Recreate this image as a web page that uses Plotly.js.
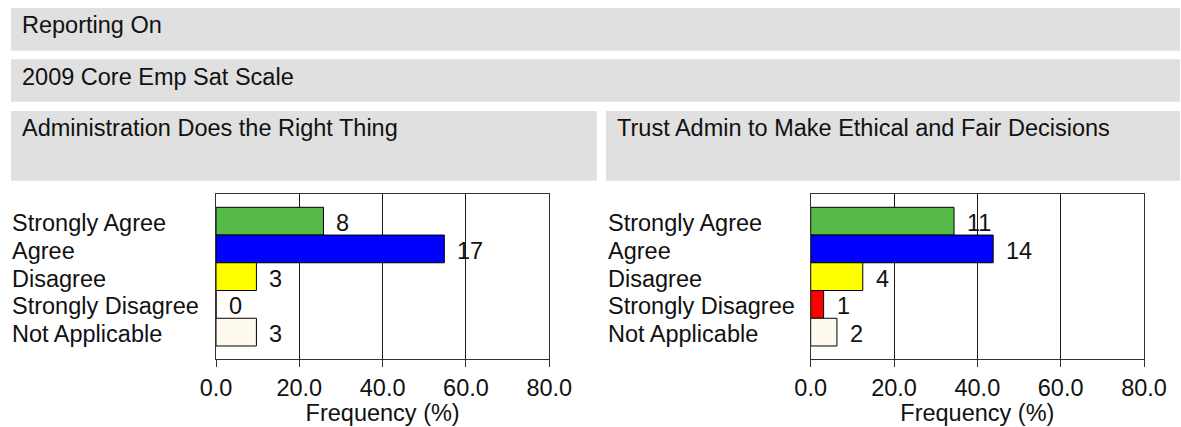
<!DOCTYPE html>
<html>
<head>
<meta charset="utf-8">
<script src="https://cdn.plot.ly/plotly-3.0.1.min.js"></script>
<style>
  html, body { margin: 0; padding: 0; background: #ffffff; }
  #chart { width: 1181px; height: 427px; }
</style>
</head>
<body>
<div id="chart"></div>
<script>
// ---- Data ----
const categories = ["Strongly Agree", "Agree", "Disagree", "Strongly Disagree", "Not Applicable"];
const barColors = ["#55BA47", "#0000FF", "#FFFF00", "#FF0000", "#FFFAF0"];
const leftCounts = [8, 17, 3, 0, 3];
const leftPercent = [25.8, 54.8, 9.7, 0, 9.7];
const rightCounts = [11, 14, 4, 1, 2];
const rightPercent = [34.4, 43.8, 12.5, 3.1, 6.3];
const xTickValues = [0, 20, 40, 60, 80];
const headerTexts = ["Reporting On", "2009 Core Emp Sat Scale"];
const panelTitles = ["Administration Does the Right Thing", "Trust Admin to Make Ethical and Fair Decisions"];
const xAxisTitle = "Frequency (%)";

// ---- Layout helpers ----
const W = 1181, H = 427;
const px = v => v / W;
const py = v => 1 - v / H;
const FONT = "Arial, 'Liberation Sans', Helvetica, sans-serif";
const FS = 23.5;
const TXT = "#111111";
const LINE = "#333333";

function barTrace(values, xa, ya) {
  return {
    type: "bar",
    orientation: "h",
    x: values,
    y: categories,
    xaxis: xa,
    yaxis: ya,
    marker: { color: barColors, line: { color: "#000000", width: 1 } },
    hoverinfo: "skip",
    showlegend: false
  };
}

const data = [
  barTrace(leftPercent, "x", "y"),
  barTrace(rightPercent, "x2", "y2")
];

function xAxis(domain, anchor) {
  return {
    domain: domain,
    anchor: anchor,
    range: [0, 80],
    tickvals: xTickValues,
    tickformat: ".1f",
    ticks: "outside",
    ticklen: 7,
    tickcolor: LINE,
    tickwidth: 1,
    showgrid: true,
    gridcolor: "#1a1a1a",
    gridwidth: 1,
    showline: true,
    mirror: true,
    linecolor: LINE,
    linewidth: 1,
    zeroline: false,
    tickfont: { family: FONT, size: FS, color: TXT },
    title: { text: xAxisTitle, font: { family: FONT, size: FS, color: TXT }, standoff: 2 },
    fixedrange: true
  };
}
function yAxis(anchor) {
  return {
    domain: [py(359.3), py(194)],
    anchor: anchor,
    type: "category",
    categoryorder: "array",
    categoryarray: categories,
    range: [4.98, -0.98],
    showticklabels: false,
    ticks: "",
    showgrid: false,
    showline: true,
    mirror: true,
    linecolor: LINE,
    linewidth: 1,
    zeroline: false,
    fixedrange: true
  };
}

const shapes = [
  { x0: 11, x1: 1180, y0: 8, y1: 50.7 },
  { x0: 11, x1: 1180, y0: 59.3, y1: 101.7 },
  { x0: 11, x1: 596.7, y0: 111, y1: 180.7 },
  { x0: 606, x1: 1180, y0: 111, y1: 180.7 }
].map(b => ({
  type: "rect", xref: "paper", yref: "paper", layer: "below",
  x0: px(b.x0), x1: px(b.x1), y0: py(b.y1), y1: py(b.y0),
  fillcolor: "#E0E0E0", line: { width: 0 }
}));

const annotations = [];
const font = { family: FONT, size: FS, color: TXT };
// header texts
annotations.push({ xref: "paper", yref: "paper", x: px(20), y: py(25), xanchor: "left", yanchor: "middle", text: headerTexts[0], showarrow: false, font: font });
annotations.push({ xref: "paper", yref: "paper", x: px(20), y: py(76.7), xanchor: "left", yanchor: "middle", text: headerTexts[1], showarrow: false, font: font });
annotations.push({ xref: "paper", yref: "paper", x: px(20), y: py(127.7), xanchor: "left", yanchor: "middle", text: panelTitles[0], showarrow: false, font: font });
annotations.push({ xref: "paper", yref: "paper", x: px(615), y: py(127.7), xanchor: "left", yanchor: "middle", text: panelTitles[1], showarrow: false, font: font });

// category labels and value labels
const panels = [
  { labelX: 10, xref: "x", yref: "y", pct: leftPercent, counts: leftCounts },
  { labelX: 605.5, xref: "x2", yref: "y2", pct: rightPercent, counts: rightCounts }
];
panels.forEach(p => {
  categories.forEach((c, i) => {
    annotations.push({ xref: "paper", yref: p.yref, x: px(p.labelX), y: c, xanchor: "left", yanchor: "middle", yshift: -2, text: c, showarrow: false, font: font });
    annotations.push({ xref: p.xref, yref: p.yref, x: p.pct[i], y: c, xanchor: "left", yanchor: "middle", xshift: 11, yshift: -2, text: String(p.counts[i]), showarrow: false, font: font });
  });
});

const layout = {
  width: W,
  height: H,
  margin: { l: 0, r: 0, t: 0, b: 0 },
  paper_bgcolor: "#ffffff",
  plot_bgcolor: "#ffffff",
  bargap: 0,
  showlegend: false,
  font: font,
  xaxis: xAxis([px(216), px(549.3)], "y"),
  yaxis: yAxis("x"),
  xaxis2: xAxis([px(810.7), px(1144)], "y2"),
  yaxis2: yAxis("x2"),
  shapes: shapes,
  annotations: annotations
};

Plotly.newPlot("chart", data, layout, { staticPlot: true, displayModeBar: false });
</script>
</body>
</html>
